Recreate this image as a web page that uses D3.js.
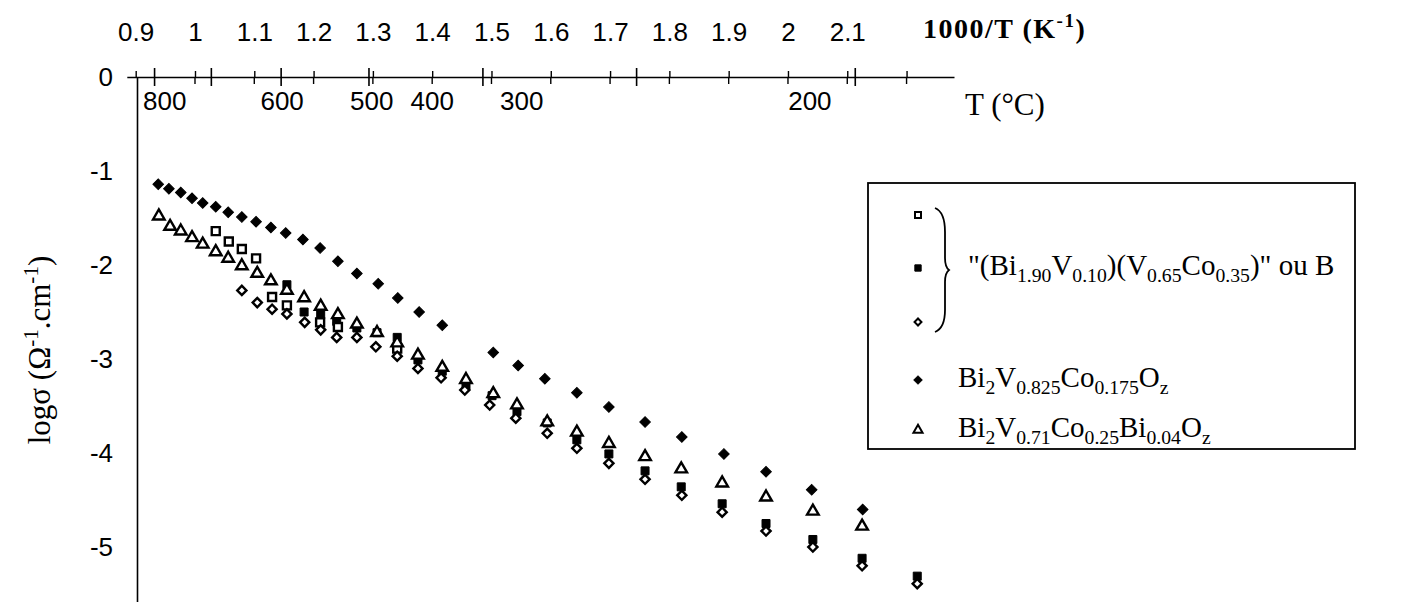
<!DOCTYPE html>
<html>
<head>
<meta charset="utf-8">
<script src="https://cdn.jsdelivr.net/npm/d3@7"></script>
<style>
body { margin: 0; background: #fff; }
</style>
</head>
<body>
<div id="chart"></div>
<script>
// axis values
var invTTicks = [0.9, 1, 1.1, 1.2, 1.3, 1.4, 1.5, 1.6, 1.7, 1.8, 1.9, 2, 2.1, 2.2];
var invTLabels = ["0.9", "1", "1.1", "1.2", "1.3", "1.4", "1.5", "1.6", "1.7", "1.8", "1.9", "2", "2.1"];
var tTicks = [800, 700, 600, 500, 400, 300, 200];
var tLabels = ["800", "600", "500", "400", "300", "200"];
var tLabelAt = [0.949, 1.147, 1.298, 1.400, 1.551, 2.037];   // where the labels sit on the 1000/T axis
var yTicks = [0, -1, -2, -3, -4, -5];

// Bi2V0.825Co0.175Oz (filled diamonds)
var coX = [0.938, 0.956, 0.976, 0.995, 1.013, 1.035, 1.056, 1.079, 1.103, 1.128, 1.153, 1.182, 1.211, 1.241, 1.273,
           1.309, 1.342, 1.378, 1.417, 1.503, 1.545, 1.590, 1.644, 1.698, 1.759, 1.821, 1.892, 1.963, 2.040, 2.126];
var coY = [-1.14, -1.19, -1.23, -1.29, -1.34, -1.38, -1.44, -1.49, -1.54, -1.60, -1.66, -1.73, -1.82, -1.96, -2.09,
           -2.20, -2.35, -2.50, -2.64, -2.93, -3.07, -3.21, -3.36, -3.51, -3.67, -3.83, -4.01, -4.20, -4.39, -4.60];

// Bi2V0.71Co0.25Bi0.04Oz (open triangles)
var biX = [0.939, 0.958, 0.976, 0.995, 1.013, 1.035, 1.056, 1.079, 1.105, 1.128, 1.155, 1.184, 1.212, 1.241, 1.273, 1.307,
           1.341, 1.376, 1.417, 1.457, 1.503, 1.543, 1.594, 1.644, 1.698, 1.759, 1.820, 1.889, 1.963, 2.042, 2.125];
var biY = [-1.48, -1.59, -1.64, -1.71, -1.78, -1.86, -1.93, -2.01, -2.09, -2.17, -2.27, -2.35, -2.44, -2.53, -2.63, -2.72,
           -2.83, -2.96, -3.09, -3.22, -3.37, -3.49, -3.67, -3.78, -3.90, -4.04, -4.17, -4.32, -4.47, -4.62, -4.78];

// "B" runs : open squares, filled squares, open diamonds
var b1X = [1.035, 1.057, 1.079, 1.103, 1.130, 1.155, 1.211, 1.241, 1.341];
var b1Y = [-1.64, -1.75, -1.83, -1.93, -2.34, -2.43, -2.61, -2.66, -2.89];

var b2X = [1.155, 1.184, 1.212, 1.239, 1.273, 1.307, 1.341, 1.376, 1.417, 1.457, 1.501, 1.543, 1.594, 1.644, 1.698,
           1.759, 1.820, 1.889, 1.963, 2.042, 2.125, 2.218];
var b2Y = [-2.21, -2.50, -2.53, -2.60, -2.67, -2.72, -2.77, -3.01, -3.13, -3.28, -3.39, -3.56, -3.68, -3.86, -4.01,
           -4.19, -4.36, -4.54, -4.75, -4.92, -5.12, -5.31];

var b3X = [1.079, 1.105, 1.130, 1.155, 1.185, 1.212, 1.239, 1.273, 1.305, 1.341, 1.376, 1.415, 1.455, 1.497, 1.541,
           1.594, 1.644, 1.698, 1.759, 1.821, 1.889, 1.963, 2.042, 2.125, 2.218];
var b3Y = [-2.27, -2.40, -2.47, -2.52, -2.61, -2.69, -2.77, -2.77, -2.87, -2.97, -3.10, -3.20, -3.33, -3.49, -3.63,
           -3.79, -3.95, -4.11, -4.28, -4.45, -4.63, -4.83, -5.00, -5.20, -5.39];

var legendB = [['"(Bi', ''], ['1.90', 'sub'], ['V', ''], ['0.10', 'sub'], [')(V', ''], ['0.65', 'sub'],
               ['Co', ''], ['0.35', 'sub'], [')" ou B', '']];
var legendCo = [['Bi', ''], ['2', 'sub'], ['V', ''], ['0.825', 'sub'], ['Co', ''], ['0.175', 'sub'], ['O', ''], ['z', 'sub']];
var legendBi = [['Bi', ''], ['2', 'sub'], ['V', ''], ['0.71', 'sub'], ['Co', ''], ['0.25', 'sub'], ['Bi', ''], ['0.04', 'sub'],
                ['O', ''], ['z', 'sub']];

const width = 1409, height = 602;
const serif = "'Liberation Serif', 'Times New Roman', serif";
const sans = "'Liberation Sans', Arial, sans-serif";

var svg = d3.select("#chart").append("svg")
    .attr("width", width)
    .attr("height", height);

var xScale = d3.scaleLinear().domain([0.885, 2.28]).range([126.8, 954]);
var yScale = d3.scaleLinear().domain([0, -5.585]).range([77, 602]);
var tPos = t => xScale(1000 / (t + 273.15));
var axisY = 77, axisX = 137;

// write text with sub / superscripts
function richText(sel, parts, size) {
    var shift = 0;
    parts.forEach(function(p) {
        var target = p[1] == 'sub' ? size * 0.24 : (p[1] == 'sup' ? -size * 0.38 : 0);
        sel.append("tspan")
            .attr("dy", target - shift)
            .style("font-size", p[1] == '' ? size + "px" : (size * 0.68) + "px")
            .text(p[0]);
        shift = target;
    });
}

// top axis 1000/T
var xAxis = d3.axisTop(xScale)
    .tickValues(invTTicks)
    .tickSizeInner(6)
    .tickSizeOuter(0)
    .tickPadding(30)
    .tickFormat((d, i) => invTLabels[i] || "");

var gx = svg.append("g")
    .attr("transform", "translate(0," + axisY + ")")
    .call(xAxis);
gx.select(".domain").attr("stroke", "#000").attr("stroke-width", 1.6);
gx.selectAll(".tick line").attr("stroke-width", 1.4);
gx.selectAll(".tick text")
    .style("font-family", sans)
    .style("font-size", "26px")
    .attr("fill", "#000");

// downward half of the ticks
svg.append("g").selectAll("line")
    .data(invTTicks.slice(1))
    .enter()
    .append("line")
    .attr("x1", d => xScale(d)).attr("x2", d => xScale(d))
    .attr("y1", axisY).attr("y2", axisY + 7)
    .attr("stroke", "#000").attr("stroke-width", 1.4);

// T (°C) ticks
svg.append("g").selectAll("line")
    .data(tTicks)
    .enter()
    .append("line")
    .attr("x1", d => tPos(d)).attr("x2", d => tPos(d))
    .attr("y1", axisY - 9).attr("y2", axisY + 9)
    .attr("stroke", "#000").attr("stroke-width", 1.6);

svg.append("g").selectAll("text")
    .data(tLabels)
    .enter()
    .append("text")
    .attr("x", (d, i) => xScale(tLabelAt[i]))
    .attr("y", 110)
    .attr("text-anchor", "middle")
    .style("font-family", sans)
    .style("font-size", "26px")
    .text(d => d);

var topTitle = svg.append("text")
    .attr("x", 923).attr("y", 38)
    .style("font-family", serif)
    .style("font-weight", "bold")
    .style("font-size", "28px")
    .style("letter-spacing", "1.5px");
richText(topTitle, [['1000/T (K', ''], ['-1', 'sup'], [')', '']], 28);

svg.append("text")
    .attr("x", 965).attr("y", 115)
    .style("font-family", serif)
    .style("font-size", "31px")
    .text("T (°C)");

// left axis
var yAxis = d3.axisLeft(yScale)
    .tickValues(yTicks)
    .tickSize(0)
    .tickPadding(24)
    .tickFormat(d => String(d));

var gy = svg.append("g")
    .attr("transform", "translate(" + axisX + ",0)")
    .call(yAxis);
gy.select(".domain").attr("stroke", "#000").attr("stroke-width", 1.6);
gy.selectAll(".tick text")
    .style("font-family", sans)
    .style("font-size", "26px")
    .attr("fill", "#000");

var yTitle = svg.append("text")
    .attr("transform", "translate(50,350) rotate(-90)")
    .attr("text-anchor", "middle")
    .style("font-family", serif)
    .style("font-size", "31px");
richText(yTitle, [['logσ (Ω', ''], ['-1', 'sup'], ['.cm', ''], ['-1', 'sup'], [')', '']], 31);

// markers
var square = d3.symbol().type(d3.symbolSquare);
var triangle = d3.symbol().type(d3.symbolTriangle);

function drawSeries(xs, ys, sym, size, filled, rot) {
    svg.append("g").selectAll("path")
        .data(xs.map((x, i) => [x, ys[i]]))
        .enter()
        .append("path")
        .attr("d", sym.size(size)())
        .attr("transform", d => "translate(" + xScale(d[0]) + "," + yScale(d[1]) + ") rotate(" + rot + ")")
        .attr("fill", filled ? "#000" : "#fff")
        .attr("stroke", "#000")
        .attr("stroke-width", filled ? 1 : 2.4);
}

drawSeries(b2X, b2Y, square, 64, true, 0);
drawSeries(b1X, b1Y, square, 64, false, 0);
drawSeries(biX, biY, triangle, 58, false, 0);
drawSeries(b3X, b3Y, square, 42, false, 45);
drawSeries(coX, coY, square, 56, true, 45);

// legend
svg.append("rect")
    .attr("x", 868).attr("y", 183)
    .attr("width", 487).attr("height", 266)
    .attr("fill", "none")
    .attr("stroke", "#000")
    .attr("stroke-width", 1.8);

var legendMarks = [
    {y: 215, sym: square, size: 36, filled: false, rot: 0},
    {y: 268, sym: square, size: 40, filled: true, rot: 0},
    {y: 322, sym: square, size: 24, filled: false, rot: 45},
    {y: 380, sym: square, size: 34, filled: true, rot: 45},
    {y: 430, sym: triangle, size: 36, filled: false, rot: 0}
];
svg.append("g").selectAll("path")
    .data(legendMarks)
    .enter()
    .append("path")
    .attr("d", d => d.sym.size(d.size)())
    .attr("transform", d => "translate(918," + d.y + ") rotate(" + d.rot + ")")
    .attr("fill", d => d.filled ? "#000" : "#fff")
    .attr("stroke", "#000")
    .attr("stroke-width", d => d.filled ? 1 : 2);

// brace
svg.append("path")
    .attr("d", "M935,208 Q945,212 945,232 L945,258 Q945,267 949,270 Q945,273 945,282 L945,310 Q945,328 935,332")
    .attr("fill", "none")
    .attr("stroke", "#000")
    .attr("stroke-width", 1.8);

richText(svg.append("text").attr("x", 968).attr("y", 275).style("font-family", serif), legendB, 29);
richText(svg.append("text").attr("x", 958).attr("y", 387).style("font-family", serif), legendCo, 29);
richText(svg.append("text").attr("x", 958).attr("y", 437).style("font-family", serif), legendBi, 29);
</script>
</body>
</html>
